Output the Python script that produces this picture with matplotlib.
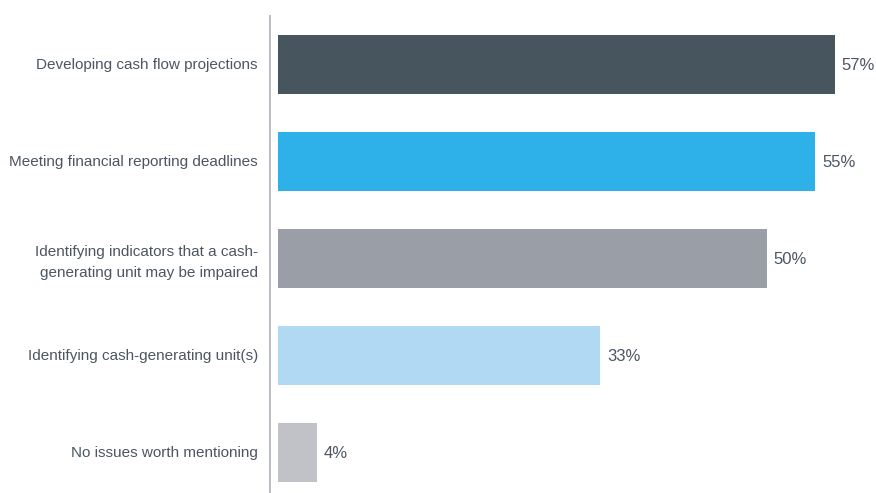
import matplotlib.pyplot as plt

# Survey responses, top to bottom
categories = [
    "Developing cash flow projections",
    "Meeting financial reporting deadlines",
    "Identifying indicators that a cash-\ngenerating unit may be impaired",
    "Identifying cash-generating unit(s)",
    "No issues worth mentioning",
]
values = [57, 55, 50, 33, 4]
colors = ["#47555f", "#2db1e8", "#9a9fa7", "#b1d9f4", "#c1c2c7"]

text_color = "#4b5661"
plt.rcParams['font.family'] = ['Liberation Sans', 'DejaVu Sans']

fig = plt.figure(figsize=(8.76, 4.93), dpi=100)
ax = fig.add_axes([278 / 876, 0, 1 - 278 / 876, 477 / 493])

pos = list(range(len(categories)))
bars = ax.barh(pos, values, height=0.608, color=colors)

ax.set_ylim(4.418, -0.5)
ax.set_xlim(0, 598 / 9.77)

# value labels to the right of each bar
for rect, v in zip(bars, values):
    ax.annotate(f"{v}%", (rect.get_width(), rect.get_y() + rect.get_height() / 2),
                xytext=(5, 0), textcoords='offset points', va='center_baseline',
                ha='left', fontsize=12, color=text_color)

# category labels, right-aligned left of the axis line
for p, name in zip(pos, categories):
    ax.annotate(name, (0, p), xycoords=('axes fraction', 'data'),
                xytext=(-14.4, 0.7), textcoords='offset points',
                ha='right', va='center_baseline', multialignment='right',
                fontsize=11, color=text_color, linespacing=1.62)

ax.set_yticks([])
ax.set_xticks([])

for side in ['top', 'right', 'bottom']:
    ax.spines[side].set_visible(False)
ax.spines['left'].set_position(('outward', 5.76))
ax.spines['left'].set_color("#b8bcc2")
ax.spines['left'].set_linewidth(1.4)

fig.savefig("out.png", dpi=100)
